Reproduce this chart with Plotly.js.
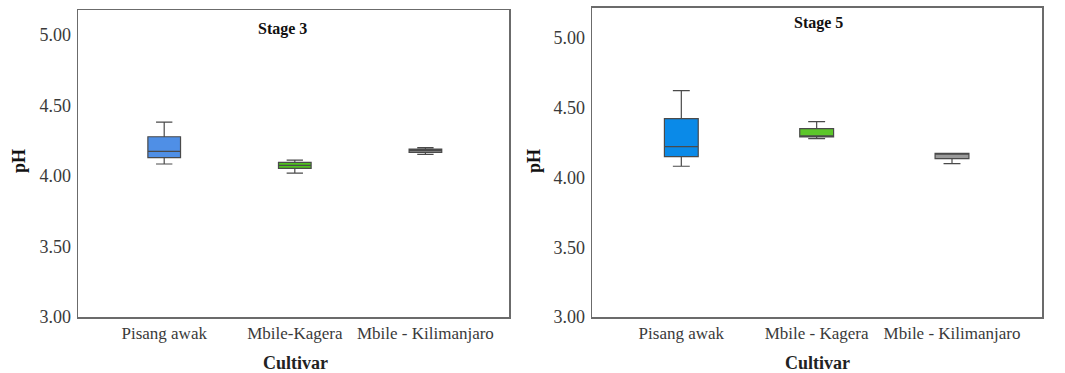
<!DOCTYPE html>
<html>
<head>
<meta charset="utf-8">
<script src="https://cdn.plot.ly/plotly-3.0.1.min.js"></script>
<style>html,body{margin:0;padding:0;background:#fff}#chart{width:1065px;height:373px}</style>
</head>
<body>
<div id="chart"></div>
<script>
// Data
const cultivarsStage3 = ["Pisang awak", "Mbile-Kagera", "Mbile - Kilimanjaro"];
const cultivarsStage5 = ["Pisang awak", "Mbile - Kagera", "Mbile - Kilimanjaro"];

const s3Lower  = [4.084, 4.020, 4.152];
const s3Q1     = [4.129, 4.053, 4.166];
const s3Median = [4.173, 4.074, 4.180];
const s3Q3     = [4.277, 4.095, 4.190];
const s3Upper  = [4.381, 4.112, 4.200];

const s5Lower  = [4.080, 4.278, 4.099];
const s5Q1     = [4.149, 4.290, 4.135];
const s5Median = [4.220, 4.297, 4.168];
const s5Q3     = [4.421, 4.349, 4.173];
const s5Upper  = [4.621, 4.399, 4.173];

const colorsStage3 = ["#4f8fe6", "#4fc21f", "#8c8c8c"];
const colorsStage5 = ["#0a8ae8", "#5cc62a", "#9a9a9a"];
const yTicks = [3.0, 3.5, 4.0, 4.5, 5.0];

const traces = [];
function addPanel(cats, lo, q1, med, q3, hi, colors, xa, ya) {
  cats.forEach((c, i) => {
    traces.push({
      type: "box",
      x: [c],
      lowerfence: [lo[i]], q1: [q1[i]], median: [med[i]], q3: [q3[i]], upperfence: [hi[i]],
      fillcolor: colors[i],
      line: {color: "#4a4a4a", width: 1.2},
      whiskerwidth: 0.5,
      width: 0.25,
      boxpoints: false,
      hoverinfo: "skip",
      showlegend: false,
      xaxis: xa, yaxis: ya
    });
  });
}
addPanel(cultivarsStage3, s3Lower, s3Q1, s3Median, s3Q3, s3Upper, colorsStage3, "x", "y");
addPanel(cultivarsStage5, s5Lower, s5Q1, s5Median, s5Q3, s5Upper, colorsStage5, "x2", "y2");

const FAM = "Liberation Serif";
function f(size, color) { return {family: FAM, size: size, color: color || "#3a3a3a"}; }
const axisCommon = {
  showline: true, mirror: true, linecolor: "#6b6b6b", linewidth: 1.5,
  showgrid: false, zeroline: false, ticks: "", fixedrange: true
};

const layout = {
  width: 1065, height: 373,
  margin: {l: 0, r: 0, t: 0, b: 0},
  paper_bgcolor: "#fff", plot_bgcolor: "#fff",
  font: f(17),
  boxmode: "overlay",
  xaxis: Object.assign({}, axisCommon, {
    domain: [78/1065, 509/1065], anchor: "y", type: "category",
    range: [-0.66, 2.64], tickfont: f(17), ticklabelstandoff: 0
  }),
  yaxis: Object.assign({}, axisCommon, {
    domain: [1 - 317/373, 1 - 10/373], anchor: "x",
    range: [3.0, 5.175], tickvals: yTicks, tickformat: ".2f",
    tickfont: f(18), ticklabelstandoff: 2
  }),
  xaxis2: Object.assign({}, axisCommon, {
    domain: [592/1065, 1042/1065], anchor: "y2", type: "category",
    range: [-0.66, 2.665], tickfont: f(17), ticklabelstandoff: 0
  }),
  yaxis2: Object.assign({}, axisCommon, {
    domain: [1 - 317/373, 1 - 7.5/373], anchor: "x2",
    range: [3.0, 5.217], tickvals: yTicks, tickformat: ".2f",
    tickfont: f(18), ticklabelstandoff: 2
  }),
  annotations: [
    {text: "<b>Stage 3</b>", xref: "paper", yref: "paper", x: 282/1065, y: 1 - 29/373,
     showarrow: false, font: f(16, "#111"), xanchor: "center", yanchor: "middle"},
    {text: "<b>Stage 5</b>", xref: "paper", yref: "paper", x: 818/1065, y: 1 - 23/373,
     showarrow: false, font: f(16, "#111"), xanchor: "center", yanchor: "middle"},
    {text: "<b>Cultivar</b>", xref: "paper", yref: "paper", x: 295/1065, y: 1 - 363/373,
     showarrow: false, font: f(18, "#222"), xanchor: "center", yanchor: "middle"},
    {text: "<b>Cultivar</b>", xref: "paper", yref: "paper", x: 817/1065, y: 1 - 363/373,
     showarrow: false, font: f(18, "#222"), xanchor: "center", yanchor: "middle"},
    {text: "<b>pH</b>", xref: "paper", yref: "paper", x: 19/1065, y: 1 - 161/373, textangle: -90,
     showarrow: false, font: f(18, "#111"), xanchor: "center", yanchor: "middle"},
    {text: "<b>pH</b>", xref: "paper", yref: "paper", x: 534/1065, y: 1 - 161/373, textangle: -90,
     showarrow: false, font: f(18, "#111"), xanchor: "center", yanchor: "middle"}
  ]
};

Plotly.newPlot("chart", traces, layout, {displayModeBar: false, staticPlot: true});
</script>
</body>
</html>
